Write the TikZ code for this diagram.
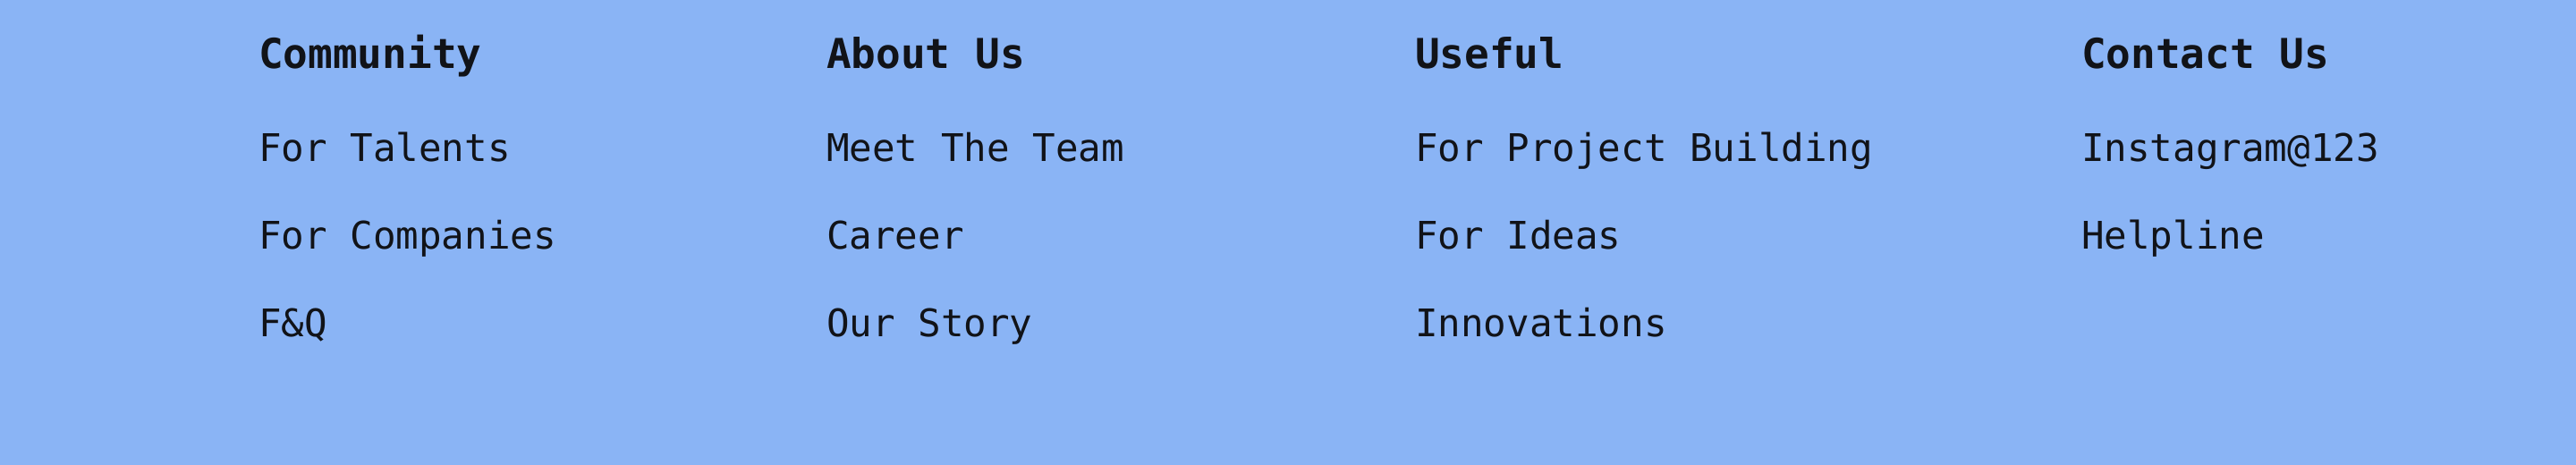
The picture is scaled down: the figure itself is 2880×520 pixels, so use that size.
\documentclass[tikz,border=0pt]{standalone}
\usepackage{fontspec}
\setmonofont{DejaVu Sans Mono}
\definecolor{footerblue}{HTML}{8AB4F5}
\definecolor{footertext}{HTML}{111318}

\begin{document}
\begin{tikzpicture}[
    x = 0.1mm,
    y = -0.1mm,
    head/.style = {anchor=base west, inner sep=0pt, outer sep=0pt,
              font=\fontsize{13.1}{15}\selectfont\ttfamily\bfseries, text=footertext},
    entry/.style = {anchor=base west, inner sep=0pt, outer sep=0pt,
              font=\fontsize{12.1}{14}\selectfont\ttfamily, text=footertext},
    ]

\fill[footerblue] (0,0) rectangle (2880,520);
\useasboundingbox (0,0) rectangle (2880,520);

% Community
\node[head]  (community)  at (289,77){Community};
\node[entry] (talents)    at (289,181){For Talents};
\node[entry] (companies)  at (289,279){For Companies};
\node[entry] (faq)        at (289,377){F\&Q};

% About Us
\node[head]  (about)      at (924,77){About Us};
\node[entry] (team)       at (924,181){Meet The Team};
\node[entry] (career)     at (924,279){Career};
\node[entry] (story)      at (924,377){Our Story};

% Useful
\node[head]  (useful)     at (1582,77){Useful};
\node[entry] (building)   at (1582,181){For Project Building};
\node[entry] (ideas)      at (1582,279){For Ideas};
\node[entry] (innovation) at (1582,377){Innovations};

% Contact Us
\node[head]  (contact)    at (2327,77){Contact Us};
\node[entry] (instagram)  at (2327,181){Instagram@123};
\node[entry] (helpline)   at (2327,279){Helpline};

\end{tikzpicture}
\end{document}
